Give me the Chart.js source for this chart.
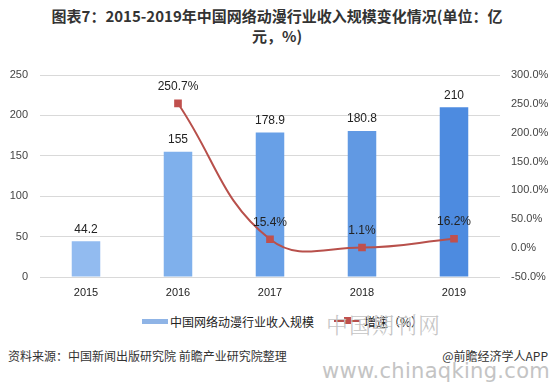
<!DOCTYPE html>
<html><head><meta charset="utf-8">
<script src="https://cdn.jsdelivr.net/npm/chart.js@4.4.1/dist/chart.umd.min.js"></script>
<style>
html,body{margin:0;padding:0;background:#fff;width:554px;height:386px;overflow:hidden;font-family:"Noto Sans CJK SC","Microsoft YaHei",sans-serif;}
#wrap{position:absolute;left:0;top:0;width:554px;height:300px;}
.t{position:absolute;left:0;width:554px;text-align:center;font-weight:bold;font-size:15px;color:#333;line-height:20px;}
.leg{position:absolute;font-size:12px;color:#222;top:313px;}
.src{position:absolute;top:347px;font-size:12px;color:#333;}
.wm{position:absolute;color:#c4c4c4;}
</style></head>
<body>
<div class="t" style="top:6px;">图表7：2015-2019年中国网络动漫行业收入规模变化情况(单位：亿</div>
<div class="t" style="top:26px;">元，%)</div>
<div id="wrap"><canvas id="c" width="554" height="300"></canvas></div>
<div style="position:absolute;left:142px;top:319px;width:26px;height:5px;background:#8fb4e6;"></div>
<div class="leg" style="left:170px;">中国网络动漫行业收入规模</div>
<div style="position:absolute;left:334px;top:320px;width:26px;height:2px;background:#b8504b;"></div>
<div style="position:absolute;left:344px;top:317px;width:7px;height:7px;background:#c0504d;"></div>
<div class="leg" style="left:364px;">增速（%）</div>
<div class="wm" style="left:326px;top:308px;font-size:22px;letter-spacing:1px;font-family:'Noto Serif CJK SC','Noto Sans CJK SC',serif;font-weight:300;">中国期刊网</div>
<div class="src" style="left:8px;">资料来源：中国新闻出版研究院 前瞻产业研究院整理</div>
<div class="src" style="right:6px;">@前瞻经济学人APP</div>
<div class="wm" style="left:322px;top:359px;font-size:21px;font-family:'DejaVu Sans',sans-serif;letter-spacing:0.3px;">www.chinaqking.com</div>
<script>
const categories = ["2015","2016","2017","2018","2019"];
const revenue = [44.2, 155, 178.9, 180.8, 210];
const growth = [null, 250.7, 15.4, 1.1, 16.2];
const leftTicks = [0, 50, 100, 150, 200, 250];
const rightTicks = [-50, 0, 50, 100, 150, 200, 250, 300];
const barColors = ["#92bbf0","#7fb0ec","#68a0e7","#6199e3","#4d8be0"];

const labelPlugin = {
  id: 'labels',
  afterDatasetsDraw(chart) {
    const ctx = chart.ctx;
    ctx.save();
    ctx.font = '12px "Liberation Sans", Arial, sans-serif';
    ctx.fillStyle = '#222';
    ctx.textAlign = 'center';
    ctx.textBaseline = 'middle';
    const bm = chart.getDatasetMeta(1);
    bm.data.forEach((el, i) => {
      ctx.fillText(String(revenue[i]), el.x, el.y - 12);
    });
    const lm = chart.getDatasetMeta(0);
    lm.data.forEach((el, i) => {
      if (growth[i] === null) return;
      ctx.fillText(growth[i].toFixed(1) + '%', el.x, el.y - 17);
    });
    ctx.restore();
  }
};

new Chart(document.getElementById('c'), {
  data: {
    labels: categories,
    datasets: [
      { type: 'line', label: '增速（%）', data: growth, yAxisID: 'y1',
        borderColor: '#b8504b', borderWidth: 2, tension: 0.42,
        pointStyle: 'rect', pointRadius: 4, pointBackgroundColor: '#c0504d', pointBorderColor: '#c0504d',
        spanGaps: false, order: 0 },
      { type: 'bar', label: '中国网络动漫行业收入规模', data: revenue, yAxisID: 'y',
        backgroundColor: barColors, barPercentage: 0.31, categoryPercentage: 1, order: 1 }
    ]
  },
  options: {
    responsive: false, animation: false,
    layout: { padding: { top: 75, left: 0, right: 0, bottom: 0 } },
    plugins: { legend: { display: false }, tooltip: { enabled: false }, title: { display: false } },
    scales: {
      x: {
        grid: { display: false, drawTicks: false },
        border: { display: false },
        ticks: { color: '#222', font: { size: 11, family: '"Liberation Sans", Arial, sans-serif' }, padding: 9 },
        afterFit(s) { s.height = 23; }
      },
      y: {
        position: 'left', min: 0, max: 250,
        afterBuildTicks(s) { s.ticks = leftTicks.map(v => ({ value: v })); },
        grid: { color: '#d9d9d9', drawTicks: false },
        border: { display: false },
        ticks: { color: '#444', font: { size: 11, family: '"Liberation Sans", Arial, sans-serif' }, padding: 12 },
        afterFit(s) { s.width = 40; }
      },
      y1: {
        position: 'right', min: -50, max: 300,
        afterBuildTicks(s) { s.ticks = rightTicks.map(v => ({ value: v })); },
        grid: { display: false, drawTicks: false },
        border: { display: false },
        ticks: { color: '#444', font: { size: 11, family: '"Liberation Sans", Arial, sans-serif' }, padding: 11,
          callback: v => v.toFixed(1) + '%' },
        afterFit(s) { s.width = 54; }
      }
    }
  },
  plugins: [labelPlugin]
});
</script>
</body></html>
